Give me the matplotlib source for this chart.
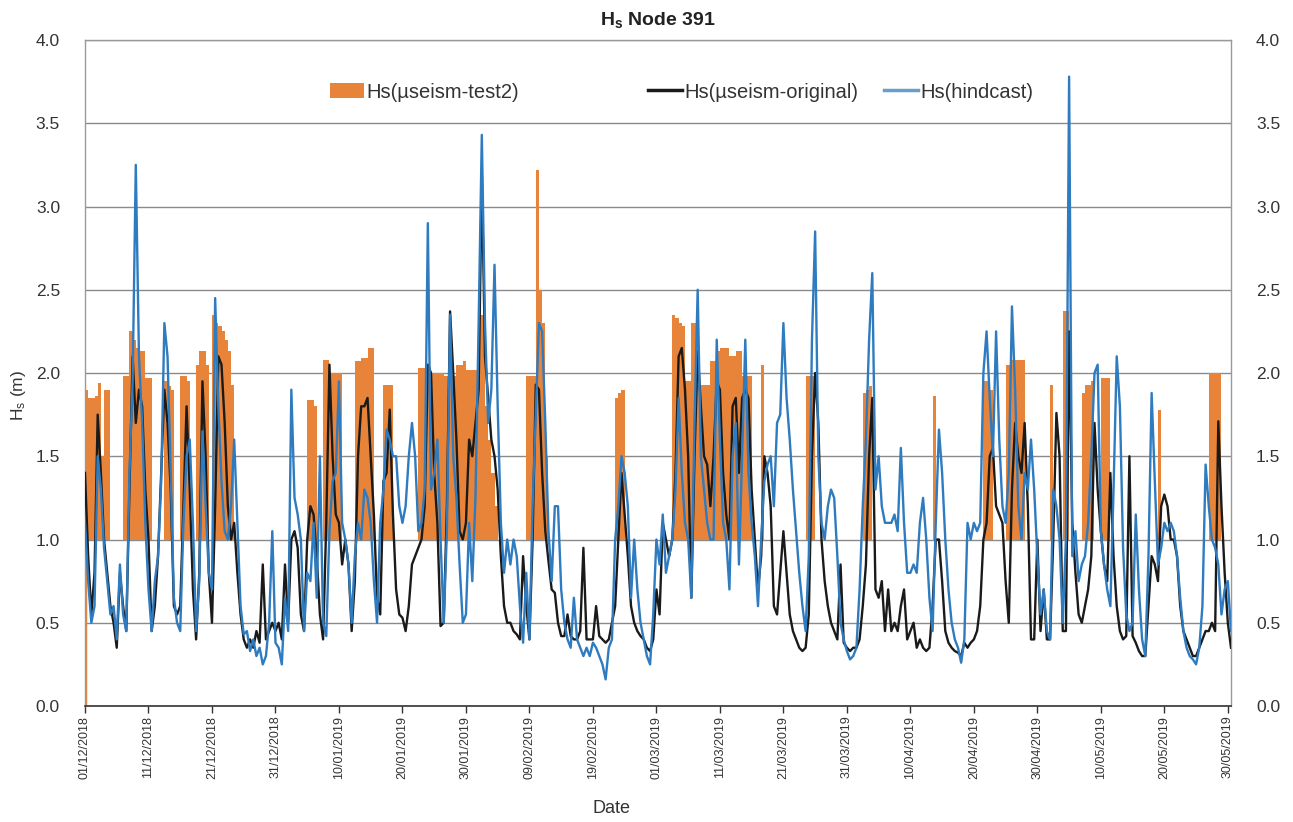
import numpy as np
import pandas as pd
import matplotlib
matplotlib.use("Agg")
import matplotlib.pyplot as plt
from matplotlib.patches import Patch
from matplotlib.lines import Line2D
from matplotlib import font_manager

# ---------------------------------------------------------------- data
# half-daily Hs (m) from 01/12/2018 00:00, one row per 10 days
hindcast = (
    [1.1, 0.75, 0.5, 0.6, 1.5, 1.3, 0.95, 0.75, 0.55, 0.6, 0.4, 0.85, 0.55, 0.45, 1.4, 1.95, 3.25, 2.1, 1.7, 1.1]
    + [0.7, 0.45, 0.75, 0.9, 1.35, 2.3, 2.1, 1.4, 0.65, 0.5, 0.45, 1.1, 1.5, 1.6, 1.1, 0.45, 0.75, 1.65, 1.2, 0.8]
    + [0.7, 2.45, 1.8, 1.35, 1.05, 1.0, 1.2, 1.6, 1.1, 0.6, 0.43, 0.45, 0.33, 0.4, 0.3, 0.35, 0.25, 0.3, 0.5, 1.05]
    + [0.38, 0.35, 0.25, 0.65, 0.45, 1.9, 1.25, 1.15, 1.0, 0.45, 0.8, 0.75, 1.1, 0.65, 1.5, 0.5, 0.42, 1.05, 1.35, 1.4]
    + [1.95, 1.1, 1.0, 0.85, 0.5, 0.9, 1.1, 1.0, 1.3, 1.25, 1.1, 0.75, 0.5, 1.1, 1.3, 1.66, 1.6, 1.5, 1.5, 1.2]
    + [1.1, 1.2, 1.5, 1.7, 1.5, 1.05, 1.1, 1.3, 2.9, 1.3, 1.4, 1.6, 1.0, 0.5, 1.05, 2.35, 1.5, 1.25, 0.85, 0.5]
    + [0.55, 1.1, 0.75, 1.25, 2.3, 3.43, 2.3, 1.7, 1.9, 2.65, 1.8, 1.1, 0.8, 1.0, 0.85, 1.0, 0.9, 0.6, 0.38, 0.8]
    + [0.4, 1.2, 1.75, 2.3, 2.25, 1.7, 1.05, 0.75, 1.2, 1.2, 0.7, 0.5, 0.4, 0.35, 0.65, 0.4, 0.35, 0.3, 0.35, 0.3]
    + [0.38, 0.35, 0.3, 0.25, 0.16, 0.35, 0.4, 1.0, 1.2, 1.5, 1.4, 1.2, 0.65, 1.0, 0.7, 0.5, 0.4, 0.3, 0.25, 0.55]
    + [1.0, 0.85, 1.15, 0.8, 0.9, 1.0, 1.3, 1.85, 1.4, 1.1, 1.0, 0.65, 1.7, 2.5, 1.5, 1.3, 1.1, 1.0, 1.0, 2.2]
    + [1.6, 1.1, 1.0, 0.7, 1.5, 1.7, 0.85, 1.5, 2.2, 1.4, 1.1, 0.9, 0.6, 1.0, 1.35, 1.45, 1.5, 1.2, 1.7, 1.75]
    + [2.3, 1.85, 1.6, 1.3, 1.05, 0.8, 0.6, 0.45, 0.9, 2.2, 2.85, 1.5, 1.1, 1.0, 1.2, 1.3, 1.25, 0.9, 0.5, 0.4]
    + [0.33, 0.28, 0.3, 0.35, 0.7, 1.2, 1.6, 2.2, 2.6, 1.3, 1.5, 1.2, 1.1, 1.1, 1.1, 1.15, 1.05, 1.55, 1.1, 0.8]
    + [0.8, 0.85, 0.8, 1.1, 1.25, 1.0, 0.65, 0.45, 1.1, 1.66, 1.4, 1.0, 0.7, 0.5, 0.4, 0.35, 0.26, 0.4, 1.1, 1.0]
    + [1.1, 1.05, 1.1, 2.0, 2.25, 1.85, 1.5, 2.25, 1.6, 1.2, 1.1, 1.4, 2.4, 1.9, 1.2, 1.0, 1.4, 1.3, 1.6, 1.3]
    + [0.9, 0.55, 0.7, 0.45, 0.4, 1.3, 1.2, 1.0, 0.5, 1.0, 3.78, 0.9, 1.05, 0.75, 0.85, 0.9, 1.1, 1.5, 2.0, 2.05]
    + [1.05, 0.85, 0.7, 0.6, 1.3, 2.1, 1.8, 0.95, 0.55, 0.45, 0.5, 1.15, 0.7, 0.4, 0.3, 0.9, 1.88, 1.35, 0.85, 0.95]
    + [1.1, 1.05, 1.1, 1.05, 0.9, 0.65, 0.45, 0.35, 0.3, 0.28, 0.25, 0.35, 0.6, 1.45, 1.2, 1.0, 0.95, 0.85, 0.55, 0.7, 0.75, 0.45]
)

original = (
    [1.4, 0.9, 0.55, 0.8, 1.75, 1.4, 1.0, 0.8, 0.6, 0.5, 0.35, 0.8, 0.6, 0.45, 1.3, 2.1, 1.7, 1.9, 1.8, 1.3]
    + [1.0, 0.45, 0.6, 0.9, 1.4, 1.9, 1.7, 1.3, 0.6, 0.55, 0.6, 1.2, 1.8, 1.3, 0.7, 0.4, 0.8, 1.95, 1.5, 0.8]
    + [0.5, 1.2, 2.1, 2.05, 1.7, 1.2, 1.0, 1.1, 0.8, 0.55, 0.4, 0.35, 0.4, 0.35, 0.45, 0.38, 0.85, 0.4, 0.45, 0.5]
    + [0.45, 0.5, 0.4, 0.85, 0.5, 1.0, 1.05, 0.95, 0.55, 0.45, 1.0, 1.2, 1.15, 0.9, 0.55, 0.4, 1.1, 2.05, 1.5, 1.15]
    + [1.1, 0.85, 1.0, 0.85, 0.45, 0.75, 1.5, 1.8, 1.8, 1.85, 1.5, 1.15, 0.65, 0.55, 1.35, 1.4, 1.78, 1.15, 0.7, 0.55]
    + [0.53, 0.45, 0.6, 0.85, 0.9, 0.95, 1.0, 1.2, 2.05, 2.0, 1.4, 1.1, 0.48, 0.5, 1.2, 2.37, 2.0, 1.6, 1.05, 1.0]
    + [1.1, 1.6, 1.5, 1.7, 1.9, 3.2, 2.1, 1.85, 1.6, 1.5, 1.3, 0.9, 0.6, 0.5, 0.5, 0.45, 0.43, 0.4, 0.9, 0.6]
    + [0.4, 1.0, 1.93, 1.9, 1.4, 1.05, 0.87, 0.7, 0.68, 0.5, 0.42, 0.42, 0.55, 0.42, 0.4, 0.4, 0.45, 0.95, 0.4, 0.4]
    + [0.4, 0.6, 0.42, 0.4, 0.38, 0.4, 0.5, 0.6, 1.0, 1.4, 1.15, 0.9, 0.6, 0.5, 0.45, 0.42, 0.4, 0.35, 0.33, 0.4]
    + [0.7, 0.55, 1.1, 1.0, 0.9, 1.0, 1.4, 2.1, 2.15, 1.9, 1.5, 0.65, 1.5, 2.13, 1.8, 1.5, 1.45, 1.2, 1.5, 1.95]
    + [1.9, 1.4, 1.15, 1.0, 1.8, 1.85, 1.4, 1.85, 1.9, 1.85, 1.3, 1.0, 0.7, 0.9, 1.5, 1.4, 1.2, 0.6, 0.55, 0.8]
    + [1.05, 0.8, 0.55, 0.45, 0.4, 0.35, 0.33, 0.35, 0.55, 1.5, 2.0, 1.7, 1.0, 0.75, 0.6, 0.5, 0.45, 0.4, 0.85, 0.38]
    + [0.35, 0.33, 0.35, 0.35, 0.4, 0.6, 0.85, 1.5, 1.85, 0.7, 0.65, 0.75, 0.45, 0.7, 0.45, 0.5, 0.45, 0.6, 0.7, 0.4]
    + [0.45, 0.5, 0.35, 0.4, 0.35, 0.33, 0.35, 0.6, 1.0, 1.0, 0.75, 0.45, 0.38, 0.35, 0.33, 0.32, 0.3, 0.38, 0.35, 0.38]
    + [0.4, 0.45, 0.6, 1.0, 1.1, 1.5, 1.55, 1.2, 1.15, 1.1, 0.75, 0.5, 1.3, 1.7, 1.5, 1.4, 1.7, 1.2, 0.4, 0.4]
    + [1.0, 0.45, 0.7, 0.4, 0.4, 1.0, 1.76, 1.5, 0.45, 0.45, 2.25, 1.1, 0.8, 0.55, 0.5, 0.6, 0.7, 0.9, 1.7, 1.3]
    + [1.05, 0.85, 0.75, 1.4, 0.9, 0.6, 0.45, 0.4, 0.42, 1.5, 0.42, 0.38, 0.33, 0.3, 0.3, 0.6, 0.9, 0.85, 0.75, 1.2]
    + [1.27, 1.2, 1.0, 1.0, 0.9, 0.6, 0.45, 0.4, 0.35, 0.3, 0.3, 0.35, 0.4, 0.45, 0.45, 0.5, 0.45, 1.71, 1.2, 0.8, 0.5, 0.35]
)

# test2 exceedances above 1 m: block start, then consecutive half-daily values
test2_blocks = [
    ("2018-12-01 00:00", [1.9, 1.85, 1.85, 1.86, 1.94, 1.5, 1.9, 1.9]),
    ("2018-12-07 00:00", [1.98, 1.98, 2.25, 2.2, 2.15, 2.13, 2.13, 1.97, 1.97]),
    ("2018-12-13 12:00", [1.95, 1.92, 1.9]),
    ("2018-12-16 00:00", [1.98, 1.98, 1.95]),
    ("2018-12-18 12:00", [2.05, 2.13, 2.13, 2.05]),
    ("2018-12-21 00:00", [2.35, 2.3, 2.28, 2.25, 2.2, 2.13, 1.93]),
    ("2019-01-05 00:00", [1.84, 1.84, 1.8]),
    ("2019-01-07 12:00", [2.08, 2.08, 2.0, 2.0, 2.0, 2.0]),
    ("2019-01-12 12:00", [2.07, 2.07, 2.09, 2.09, 2.15, 2.15]),
    ("2019-01-17 00:00", [1.93, 1.93, 1.93]),
    ("2019-01-22 12:00", [2.03, 2.03, 2.0, 2.0, 2.0, 2.0, 2.0, 2.0, 1.98, 1.98, 1.98, 1.98,
                          2.05, 2.05, 2.07, 2.02, 2.02, 2.02, 2.02, 2.35, 2.35, 1.8, 1.6, 1.4, 1.2]),
    ("2019-02-08 12:00", [1.98, 1.98, 1.98, 3.22, 2.5, 2.3, 1.5]),
    ("2019-02-22 12:00", [1.85, 1.88, 1.9]),
    ("2019-03-03 12:00", [2.35, 2.33, 2.3, 2.28, 1.95, 1.95, 2.3, 2.3, 1.93, 1.93, 1.93, 1.93,
                          2.07, 2.07, 2.13, 2.15, 2.15, 2.15, 2.1, 2.1, 2.13, 2.13, 1.98, 1.98, 1.98]),
    ("2019-03-17 12:00", [2.05]),
    ("2019-03-24 12:00", [1.98, 1.98, 1.98]),
    ("2019-04-02 12:00", [1.88, 1.9, 1.92]),
    ("2019-04-13 12:00", [1.86]),
    ("2019-04-21 12:00", [1.95, 1.95, 1.9]),
    ("2019-04-25 00:00", [2.05, 2.05, 2.08, 2.08, 2.08, 2.08]),
    ("2019-05-02 00:00", [1.93]),
    ("2019-05-04 00:00", [2.37, 2.37]),
    ("2019-05-07 00:00", [1.88, 1.93, 1.93, 1.95]),
    ("2019-05-10 00:00", [1.97, 1.97, 1.97]),
    ("2019-05-19 00:00", [1.78]),
    ("2019-05-27 00:00", [2.0, 2.0, 2.0, 2.0]),
]

series_labels = ["Hs(µseism-test2)", "Hs(µseism-original)", "Hs(hindcast)"]
tick_dates = pd.date_range("2018-12-01", "2019-05-30", freq="10D")
y_ticks = np.arange(0.0, 4.01, 0.5)

# ---------------------------------------------------------------- style
names = {f.name for f in font_manager.fontManager.ttflist}
narrow = "Liberation Sans Narrow" if "Liberation Sans Narrow" in names else "Liberation Sans"
plt.rcParams["font.family"] = [narrow, "Liberation Sans", "DejaVu Sans"]
plt.rcParams["mathtext.fontset"] = "custom"
plt.rcParams["mathtext.rm"] = narrow
plt.rcParams["mathtext.bf"] = narrow + ":bold"
plt.rcParams["mathtext.it"] = narrow + ":italic"

ORANGE = "#E8843A"
BLACK = "#1a1a1a"
BLUE = "#2E7BBF"
GRID = "#8a8a8a"
TEXT = "#333333"

W, H = 1293, 822
fig = plt.figure(figsize=(W / 100, H / 100), dpi=100)
L, R, T, B = 85, 1231, 40, 706
ax = fig.add_axes([L / W, 1 - B / H, (R - L) / W, (B - T) / H])

times = pd.date_range("2018-12-01", periods=len(hindcast), freq="12h")
half_day = pd.Timedelta(hours=12)

# test2 drawn as columns rising from the 1 m line
for start, vals in test2_blocks:
    xs = pd.date_range(start, periods=len(vals), freq="12h")
    v = np.asarray(vals)
    ax.bar(xs, v - 1.0, bottom=1.0, width=half_day, align="edge",
           color=ORANGE, linewidth=0, zorder=2)
first_t = pd.Timestamp(test2_blocks[0][0])
ax.vlines(first_t, 0, test2_blocks[0][1][0], color=ORANGE, lw=2.5, zorder=2)

ax.plot(times, original, color=BLACK, lw=1.7, zorder=3)
ax.plot(times, hindcast, color=BLUE, lw=1.7, zorder=4)

# axes
ax.set_ylim(0, 4.0)
ax.set_xlim(times[0], times[0] + pd.Timedelta(days=180.5))
ax.set_yticks(y_ticks)
ax.set_yticklabels([f"{v:.1f}" for v in y_ticks])
ax.tick_params(axis="y", length=0, labelsize=12.5, colors=TEXT, pad=18,
               left=True, right=True, labelleft=True, labelright=True)
ax.set_xticks(tick_dates)
ax.set_xticklabels([d.strftime("%d/%m/%Y") for d in tick_dates], rotation=90)
ax.tick_params(axis="x", direction="out", length=5, width=1, colors=TEXT,
               labelsize=9, pad=2)

ax.grid(axis="y", color=GRID, lw=1.0, zorder=0)
ax.set_axisbelow(True)
for side in ("left", "right", "top"):
    ax.spines[side].set_color("#9a9a9a")
    ax.spines[side].set_linewidth(1.0)
ax.spines["bottom"].set_color(TEXT)
ax.spines["bottom"].set_linewidth(1.2)

ax.set_title(r"$\mathbf{H}_\mathbf{s}$ Node 391", fontsize=14, fontweight="bold",
             color="#222222", pad=11)
ax.set_ylabel(r"H$_\mathrm{s}$ (m)", fontsize=12.5, color=TEXT)
ax.yaxis.set_label_coords((28 - L) / (R - L), (B - 395) / (B - T))
ax.set_xlabel("Date", fontsize=13, color=TEXT)
ax.xaxis.set_label_coords((612 - L) / (R - L), (B - 800) / (B - T))

# legend: three separate entries across the top
legend_font = {"family": ["Liberation Sans", "DejaVu Sans"], "size": 14.5}
handles = [Patch(facecolor=ORANGE, edgecolor="none"),
           Line2D([], [], color=BLACK, lw=2.5),
           Line2D([], [], color="#6a9ec9", lw=2.5)]
anchors = [330, 648, 884]
for h, lab, xa in zip(handles, series_labels, anchors):
    lg = fig.legend([h], [lab], loc="center left",
                    bbox_to_anchor=(xa / W, 1 - 92 / H), frameon=False,
                    prop=legend_font, handlelength=1.7, handleheight=0.8,
                    handletextpad=0.1, borderpad=0, borderaxespad=0)
    for txt in lg.get_texts():
        txt.set_color(TEXT)

fig.savefig("out.png", dpi=100)
